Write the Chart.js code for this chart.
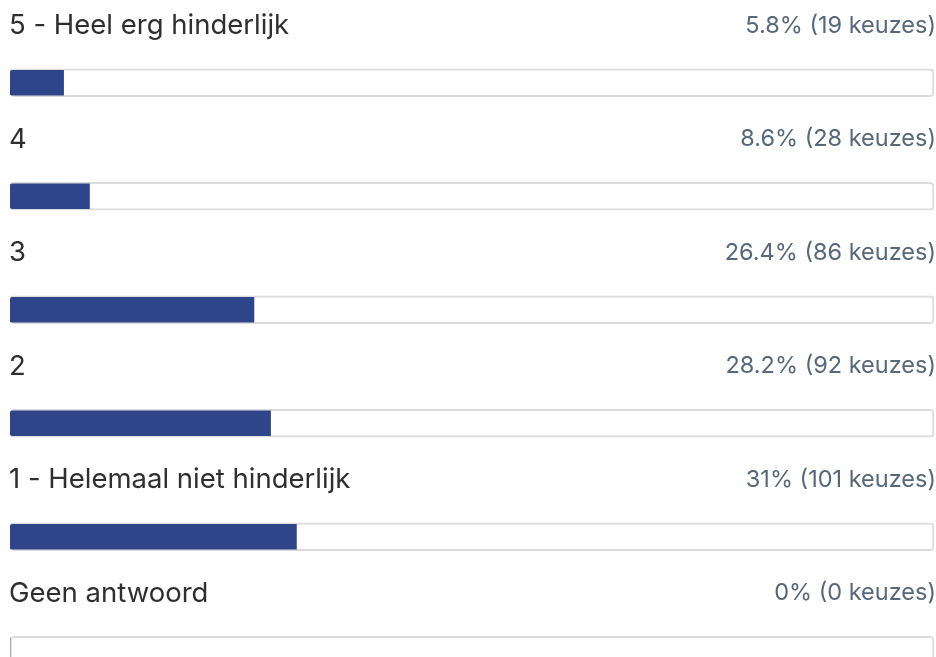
<!DOCTYPE html>
<html>
<head>
<meta charset="utf-8">
<script src="https://cdn.jsdelivr.net/npm/chart.js@4.4.0/dist/chart.umd.min.js"></script>
<style>
  html, body { margin: 0; padding: 0; background: #ffffff; overflow: hidden; }
  #wrap { width: 936px; height: 712px; position: relative; }
</style>
</head>
<body>
<div id="wrap"><canvas id="c" width="936" height="712"></canvas></div>
<script>
const categories = ["5 - Heel erg hinderlijk", "4", "3", "2", "1 - Helemaal niet hinderlijk", "Geen antwoord"];
const percentages = [5.8, 8.6, 26.4, 28.2, 31, 0];
const counts = [19, 28, 86, 92, 101, 0];
const trackValues = [100, 100, 100, 100, 100, 100];

const LABEL_FONT = '400 27.5px "Inter", "Open Sans", sans-serif';
const VALUE_FONT = '400 23.5px "Inter", "Open Sans", sans-serif';

const rowText = {
  id: 'rowText',
  afterDatasetsDraw(chart) {
    const ctx = chart.ctx;
    const meta = chart.getDatasetMeta(1);
    const area = chart.chartArea;
    ctx.save();
    ctx.textBaseline = 'middle';
    meta.data.forEach((bar, i) => {
      const y = bar.y - 57;
      ctx.font = LABEL_FONT;
      ctx.fillStyle = '#2f2f2f';
      ctx.textAlign = 'left';
      ctx.fillText(categories[i], area.left - 1, y);
      ctx.font = VALUE_FONT;
      ctx.fillStyle = '#56687a';
      ctx.textAlign = 'right';
      ctx.fillText(percentages[i] + '% (' + counts[i] + ' keuzes)', area.right + 2, y);
    });
    ctx.restore();
  }
};

new Chart(document.getElementById('c'), {
  type: 'bar',
  data: {
    labels: categories,
    datasets: [
      {
        label: 'waarde',
        data: percentages,
        backgroundColor: '#2e4689',
        borderWidth: 0,
        borderRadius: { topLeft: 3, bottomLeft: 3, topRight: 0, bottomRight: 0 },
        borderSkipped: false,
        barThickness: 25,
        grouped: false,
        order: 1
      },
      {
        label: 'track',
        data: trackValues,
        backgroundColor: '#ffffff',
        borderColor: '#dcdcdc',
        borderWidth: 2,
        borderRadius: 4,
        borderSkipped: false,
        barThickness: 28,
        grouped: false,
        order: 2
      }
    ]
  },
  options: {
    indexAxis: 'y',
    responsive: false,
    animation: false,
    layout: { padding: { left: 10, right: 2, top: 26, bottom: 5 } },
    plugins: { legend: { display: false }, tooltip: { enabled: false } },
    scales: {
      x: { min: 0, max: 100, display: false },
      y: { display: false }
    }
  },
  plugins: [rowText]
});
</script>
</body>
</html>
